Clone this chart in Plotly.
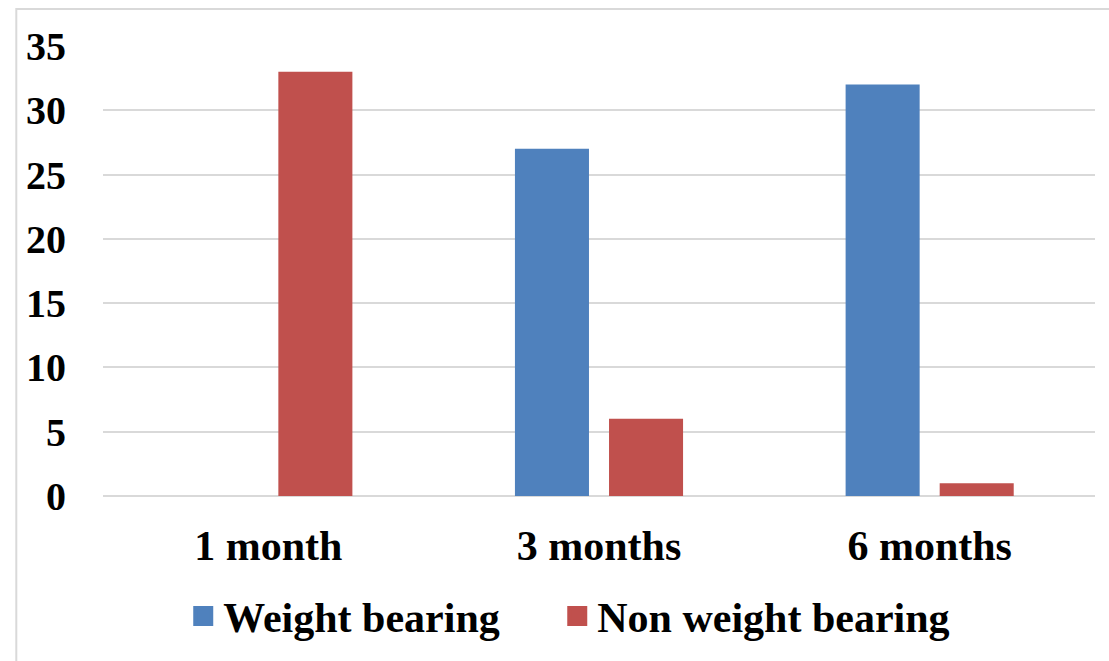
import plotly.graph_objects as go

# Follow-up intervals and patient counts per group
periods = ["1 month", "3 months", "6 months"]
weight_bearing = [0, 27, 32]
non_weight_bearing = [33, 6, 1]
y_ticks = [0, 5, 10, 15, 20, 25, 30, 35]
series_names = ["Weight bearing", "Non weight bearing"]

BLUE = "#4F81BD"
RED = "#C0504D"
GRID = "#D9D9D9"
FONT = "Liberation Serif"
NBSP = "\u00a0"

fig = go.Figure()
fig.add_trace(go.Bar(
    x=periods, y=weight_bearing, name=series_names[0],
    marker=dict(color=BLUE, line=dict(width=0)),
    showlegend=False,
))
fig.add_trace(go.Bar(
    x=periods, y=non_weight_bearing, name=series_names[1],
    marker=dict(color=RED, line=dict(width=0)),
    showlegend=False,
))

# Legend entries with larger square swatches; padding after the first
# label spreads the two entries apart
legend_labels = [series_names[0] + NBSP * 5, series_names[1]]
for label, color in zip(legend_labels, [BLUE, RED]):
    fig.add_trace(go.Scatter(
        x=[None], y=[None], mode="markers", name=label,
        marker=dict(symbol="square", size=16, color=color,
                    line=dict(color=color, width=4)),
        showlegend=True,
    ))

fig.update_layout(
    width=1109, height=661,
    margin=dict(l=103, r=14, t=46, b=164),
    paper_bgcolor="white", plot_bgcolor="white",
    font=dict(family=FONT, size=40, color="black", weight="bold"),
    barmode="group", bargap=0.431, bargroupgap=0.213,
    legend=dict(
        orientation="h", x=0.47, xanchor="center", xref="paper",
        y=-0.189, yanchor="top",
        font=dict(family=FONT, size=42, color="black", weight="bold"),
        itemsizing="trace",
        bgcolor="rgba(0,0,0,0)",
    ),
    shapes=[dict(
        type="rect", xref="paper", yref="paper",
        x0=-0.0874, x1=1.1, y0=-0.5, y1=1.082,
        line=dict(color=GRID, width=2), fillcolor="rgba(0,0,0,0)",
        layer="below",
    )],
)

fig.update_xaxes(
    showgrid=False, showline=False, zeroline=False,
    tickfont=dict(family=FONT, size=42, color="black", weight="bold"),
    ticks="", ticklabelstandoff=21,
)
fig.update_yaxes(
    range=[0, 35], tickvals=y_ticks,
    showgrid=True, gridcolor=GRID, gridwidth=2,
    zeroline=True, zerolinecolor=GRID, zerolinewidth=2,
    showline=False, ticks="",
    tickfont=dict(family=FONT, size=40, color="black", weight="bold"),
    ticklabelstandoff=36,
)

fig.write_html("out.html")
